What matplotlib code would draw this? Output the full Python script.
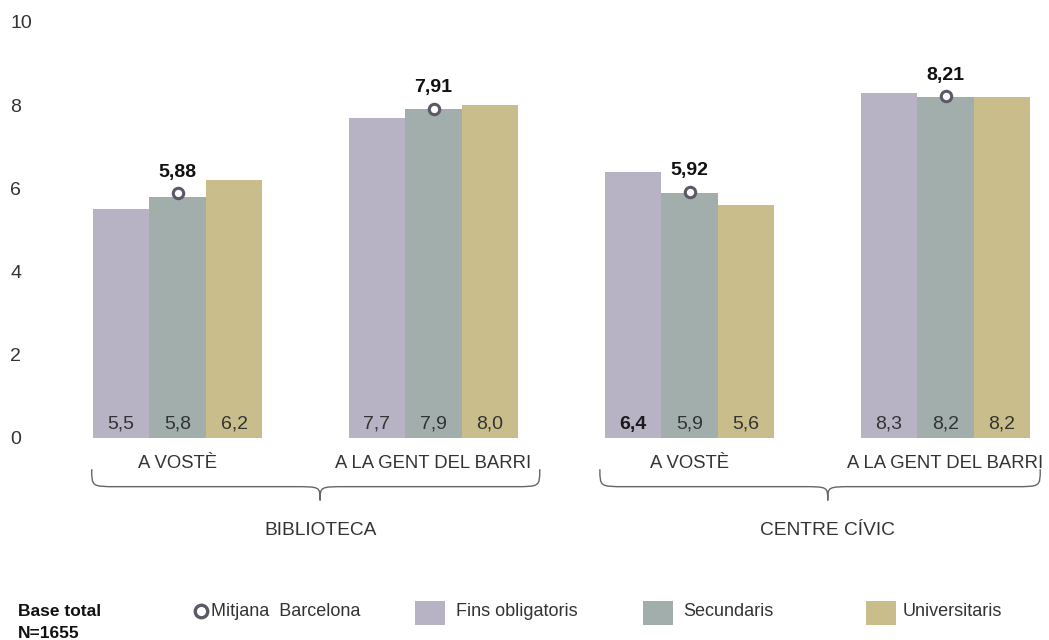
import matplotlib
matplotlib.use("Agg")
import matplotlib.pyplot as plt
import numpy as np
from matplotlib.path import Path
from matplotlib.patches import PathPatch, Rectangle
from matplotlib.lines import Line2D

plt.rcParams['font.family'] = ['Liberation Sans', 'DejaVu Sans']

# --- data ---
groups = ["BIBLIOTECA", "CENTRE CÍVIC"]
categories = ["A VOSTÈ", "A LA GENT DEL BARRI", "A VOSTÈ", "A LA GENT DEL BARRI"]
series = ["Fins obligatoris", "Secundaris", "Universitaris"]
fins_obligatoris = [5.5, 7.7, 6.4, 8.3]
secundaris = [5.8, 7.9, 5.9, 8.2]
universitaris = [6.2, 8.0, 5.6, 8.2]
mitjana_barcelona = [5.88, 7.91, 5.92, 8.21]
bold_value = (2, 0)  # (category, series) shown in bold
yticks = [0, 2, 4, 6, 8, 10]
base_total = ["Base total", "N=1655"]

colors = ["#b7b2c4", "#a1aeab", "#c9bd8c"]
text_color = "#333333"
marker_edge = "#5c5868"

W, H = 1049, 640
fig = plt.figure(figsize=(W / 100, H / 100), dpi=100)

# axes area in pixels: x 60..1040, y 22..438 (value 10..0)
ax_l, ax_r, ax_t, ax_b = 60, 1040, 22, 438
ax = fig.add_axes([ax_l / W, 1 - ax_b / H, (ax_r - ax_l) / W, (ax_b - ax_t) / H])

px_per_group = 256.0
x0_px = 177.5
ax.set_xlim((ax_l - x0_px) / px_per_group, (ax_r - x0_px) / px_per_group)
ax.set_ylim(0, 10)

x = np.arange(len(categories))
bw = 56.5 / px_per_group
values = [fins_obligatoris, secundaris, universitaris]
for i, (vals, col) in enumerate(zip(values, colors)):
    xs = x + (i - 1) * bw
    ax.bar(xs, vals, width=bw, color=col, edgecolor='none', zorder=2)
    for j, v in enumerate(vals):
        bold = (j, i) == bold_value
        ax.text(xs[j], 0.33, f"{v:.1f}".replace(".", ","), ha='center', va='center',
                fontsize=14, color='#1a1a1a' if bold else text_color,
                fontweight='bold' if bold else 'normal', zorder=4)

# city average markers on the middle bar
ax.plot(x, mitjana_barcelona, linestyle='none', marker='o', markersize=7.5,
        markerfacecolor='white', markeredgecolor=marker_edge, markeredgewidth=2.2, zorder=5)
for j, m in enumerate(mitjana_barcelona):
    ax.annotate(f"{m:.2f}".replace(".", ","), (x[j], m), xytext=(0, 9),
                textcoords='offset points', ha='center', va='bottom',
                fontsize=14, fontweight='bold', color='#111111')

# y axis
ax.set_yticks(yticks)
ax.set_yticklabels([str(t) for t in yticks], ha='left', fontsize=14, color=text_color)
ax.tick_params(axis='y', length=0, pad=36)
ax.set_xticks([])
for s in ax.spines.values():
    s.set_visible(False)

# category labels
for j, c in enumerate(categories):
    ax.text(x[j], -0.62, c, ha='center', va='center', fontsize=13.3, color=text_color,
            clip_on=False)


def brace(ax, x_left, x_right, x_tip, y_top, y_mid, y_tip, r):
    verts = [
        (x_left, y_top),
        (x_left, y_mid), (x_left, y_mid), (x_left + r, y_mid),
        (x_tip - r, y_mid),
        (x_tip, y_mid), (x_tip, y_mid), (x_tip, y_tip),
        (x_tip, y_mid), (x_tip, y_mid), (x_tip + r, y_mid),
        (x_right - r, y_mid),
        (x_right, y_mid), (x_right, y_mid), (x_right, y_top),
    ]
    codes = [Path.MOVETO,
             Path.CURVE4, Path.CURVE4, Path.CURVE4,
             Path.LINETO,
             Path.CURVE4, Path.CURVE4, Path.CURVE4,
             Path.CURVE4, Path.CURVE4, Path.CURVE4,
             Path.LINETO,
             Path.CURVE4, Path.CURVE4, Path.CURVE4]
    ax.add_patch(PathPatch(Path(verts, codes), facecolor='none', edgecolor='#666666',
                           lw=1.0, clip_on=False))


brace_spans = [(-0.335, 1.415, 0.557), (1.65, 3.37, 2.54)]
for (xl, xr, xt), g in zip(brace_spans, groups):
    brace(ax, xl, xr, xt, -0.75, -1.17, -1.5, 0.1)
    ax.text(xt, -2.22, g, ha='center', va='center', fontsize=13.8, color=text_color,
            clip_on=False)


# legend row (figure pixel coordinates)
def fx(px):
    return px / W


def fy(py):
    return 1 - py / H


fig.text(fx(18), fy(611), base_total[0], ha='left', va='center', fontsize=12.5,
         fontweight='bold', color='#111111')
fig.text(fx(18), fy(633), base_total[1], ha='left', va='center', fontsize=12.5,
         fontweight='bold', color='#111111')
fig.add_artist(Line2D([fx(201)], [fy(611)], marker='o', markersize=9,
                      markerfacecolor='white', markeredgecolor=marker_edge,
                      markeredgewidth=2.4, linestyle='none'))
fig.text(fx(211), fy(611), "Mitjana  Barcelona", ha='left', va='center', fontsize=13,
         color=text_color)
legend_pos = [(415, 456), (643, 683), (866, 903)]
for (sx, tx), col, name in zip(legend_pos, colors, series):
    fig.add_artist(Rectangle((fx(sx), fy(625)), 30 / W, 24 / H, transform=fig.transFigure,
                             facecolor=col, edgecolor='none'))
    fig.text(fx(tx), fy(611), name, ha='left', va='center', fontsize=13,
             color=text_color)

fig.savefig("out.png", dpi=100)
